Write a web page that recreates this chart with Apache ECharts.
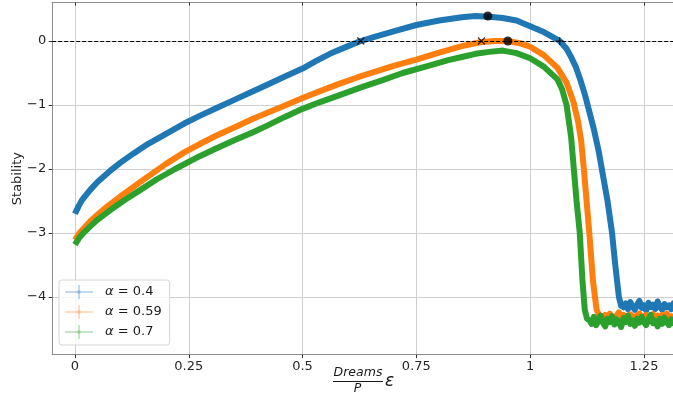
<!DOCTYPE html>
<html>
<head>
<meta charset="utf-8">
<script src="https://cdn.jsdelivr.net/npm/echarts@6/dist/echarts.min.js"></script>
<style>
  html, body { margin: 0; padding: 0; background: #ffffff; }
  #chart { width: 673px; height: 405px; }
</style>
</head>
<body>
<div id="chart"></div>
<script>
// Stability vs. (Dreams / P)·ε for three values of alpha.
const xTicks = [0, 0.25, 0.5, 0.75, 1, 1.25];
const yTicks = [-4, -3, -2, -1, 0];

const seriesNames = ['α = 0.4', 'α = 0.59', 'α = 0.7'];
const seriesColors = ['#1f77b4', '#ff7f0e', '#2ca02c'];

// alpha = 0.4
const stabilityA04 = [
  [0.000, -2.70], [0.008, -2.58], [0.015, -2.49], [0.025, -2.40], [0.033, -2.33],
  [0.050, -2.20], [0.077, -2.03], [0.100, -1.90], [0.128, -1.76], [0.160, -1.61],
  [0.200, -1.45], [0.240, -1.29], [0.274, -1.17], [0.310, -1.05], [0.350, -0.92],
  [0.390, -0.79], [0.420, -0.69], [0.460, -0.56], [0.500, -0.43], [0.530, -0.31],
  [0.560, -0.20], [0.600, -0.08], [0.628, 0.00], [0.660, 0.07], [0.700, 0.15],
  [0.750, 0.25], [0.800, 0.32], [0.850, 0.37], [0.880, 0.39], [0.910, 0.38],
  [0.940, 0.36], [0.970, 0.32], [1.000, 0.23], [1.030, 0.14], [1.050, 0.06],
  [1.065, 0.00], [1.080, -0.12], [1.090, -0.25], [1.100, -0.40], [1.110, -0.60],
  [1.120, -0.83], [1.130, -1.10], [1.140, -1.38], [1.150, -1.70], [1.160, -2.10],
  [1.170, -2.50], [1.180, -3.00], [1.187, -3.50], [1.195, -4.00], [1.200, -4.14],
  [1.205, -4.16], [1.210, -4.10], [1.215, -4.19], [1.220, -4.08], [1.225, -4.15],
  [1.230, -4.20], [1.235, -4.12], [1.240, -4.06], [1.245, -4.17], [1.250, -4.13],
  [1.255, -4.21], [1.260, -4.09], [1.265, -4.16], [1.270, -4.12], [1.275, -4.19],
  [1.280, -4.07], [1.285, -4.15], [1.290, -4.20], [1.295, -4.11], [1.300, -4.16],
  [1.305, -4.13], [1.310, -4.19], [1.315, -4.10], [1.320, -4.16]
];

// alpha = 0.59
const stabilityA059 = [
  [0.000, -3.11], [0.010, -3.00], [0.020, -2.92], [0.033, -2.82], [0.050, -2.71],
  [0.070, -2.59], [0.105, -2.40], [0.150, -2.17], [0.200, -1.92], [0.240, -1.74],
  [0.274, -1.61], [0.310, -1.48], [0.350, -1.35], [0.390, -1.22], [0.420, -1.13],
  [0.460, -1.01], [0.500, -0.89], [0.540, -0.78], [0.580, -0.67], [0.620, -0.57],
  [0.660, -0.48], [0.700, -0.39], [0.750, -0.29], [0.800, -0.18], [0.850, -0.08],
  [0.890, -0.02], [0.920, 0.00], [0.950, 0.00], [0.980, -0.04], [1.000, -0.09],
  [1.030, -0.22], [1.060, -0.42], [1.080, -0.65], [1.095, -0.95], [1.105, -1.25],
  [1.112, -1.55], [1.118, -2.00], [1.124, -2.50], [1.130, -3.00], [1.138, -3.75],
  [1.146, -4.20], [1.152, -4.29],
  [1.155, -4.30], [1.160, -4.33], [1.165, -4.28], [1.170, -4.32], [1.175, -4.26],
  [1.180, -4.31], [1.185, -4.34], [1.190, -4.29], [1.195, -4.24], [1.200, -4.32],
  [1.205, -4.28], [1.210, -4.31], [1.215, -4.35], [1.220, -4.27], [1.225, -4.30],
  [1.230, -4.33], [1.235, -4.29], [1.240, -4.26], [1.245, -4.32], [1.250, -4.30],
  [1.255, -4.28], [1.260, -4.34], [1.265, -4.31], [1.270, -4.27], [1.275, -4.32],
  [1.280, -4.29], [1.285, -4.33], [1.290, -4.28], [1.295, -4.31], [1.300, -4.26],
  [1.305, -4.32], [1.310, -4.30], [1.315, -4.34], [1.320, -4.29]
];

// alpha = 0.7
const stabilityA07 = [
  [0.000, -3.18], [0.010, -3.07], [0.020, -2.99], [0.033, -2.90], [0.050, -2.79],
  [0.080, -2.63], [0.110, -2.48], [0.143, -2.33], [0.180, -2.16], [0.220, -2.00],
  [0.274, -1.80], [0.310, -1.68], [0.350, -1.55], [0.390, -1.43], [0.420, -1.33],
  [0.460, -1.19], [0.500, -1.06], [0.540, -0.95], [0.580, -0.85], [0.630, -0.72],
  [0.676, -0.61], [0.720, -0.50], [0.780, -0.38], [0.820, -0.30], [0.850, -0.25],
  [0.880, -0.20], [0.910, -0.17], [0.940, -0.15], [0.970, -0.19], [1.000, -0.27],
  [1.030, -0.40], [1.060, -0.60], [1.070, -0.75], [1.080, -1.00], [1.090, -1.50],
  [1.096, -2.00], [1.102, -2.50], [1.109, -3.00], [1.115, -3.75], [1.120, -4.20],
  [1.125, -4.34],
  [1.130, -4.36], [1.135, -4.42], [1.140, -4.31], [1.145, -4.44], [1.150, -4.37],
  [1.155, -4.29], [1.160, -4.40], [1.165, -4.46], [1.170, -4.34], [1.175, -4.39],
  [1.180, -4.30], [1.185, -4.43], [1.190, -4.35], [1.195, -4.40], [1.200, -4.47],
  [1.205, -4.33], [1.210, -4.39], [1.215, -4.29], [1.220, -4.42], [1.225, -4.37],
  [1.230, -4.45], [1.235, -4.34], [1.240, -4.40], [1.245, -4.31], [1.250, -4.39],
  [1.255, -4.44], [1.260, -4.35], [1.265, -4.28], [1.270, -4.41], [1.275, -4.37],
  [1.280, -4.46], [1.285, -4.34], [1.290, -4.42], [1.295, -4.32], [1.300, -4.39],
  [1.305, -4.44], [1.310, -4.35], [1.315, -4.41], [1.320, -4.34]
];

// Zero crossings on the way up, maxima, and the downward crossing
const upCrossings = [[0.628, 0.0], [0.893, 0.0]];
const maxima = [[0.907, 0.39], [0.951, 0.0]];
const downCrossings = [[1.065, 0.0]];

const FONT = 'DejaVu Sans';
const minus = v => (v < 0 ? '\u2212' + Math.abs(v) : String(v));

const curves = [stabilityA04, stabilityA059, stabilityA07].map((data, i) => ({
  name: seriesNames[i],
  type: 'line',
  data: data,
  showSymbol: false,
  symbol: 'none',
  color: seriesColors[i],
  lineStyle: { width: 6, color: seriesColors[i], join: 'round' },
  z: 3 + i,
  silent: true,
  animation: false
}));

const chart = echarts.init(document.getElementById('chart'), null, { renderer: 'canvas' });

chart.setOption({
  animation: false,
  backgroundColor: '#ffffff',
  grid: { left: 52.2, top: 2.6, width: 623.6, height: 352, containLabel: false, outerBoundsMode: 'none' },
  xAxis: [{
    type: 'value',
    min: -0.05, max: 1.32,
    axisLine: { show: true, onZero: false, lineStyle: { color: '#8c8c8c', width: 1 } },
    axisTick: { show: true, customValues: xTicks, length: 3.5, inside: false, lineStyle: { color: '#333', width: 1 } },
    axisLabel: {
      customValues: xTicks, margin: 6, color: '#262626', fontFamily: FONT, fontSize: 13,
      formatter: v => String(v)
    },
    splitLine: { show: true, lineStyle: { color: '#cfcfcf', width: 1 } }
  }, {
    type: 'value',
    position: 'top',
    min: -0.05, max: 1.32,
    axisLine: { show: true, onZero: false, lineStyle: { color: '#8c8c8c', width: 1 } },
    axisTick: { show: true, customValues: xTicks, length: 3, inside: true, lineStyle: { color: '#333', width: 1 } },
    axisLabel: { show: false },
    splitLine: { show: false }
  }],
  yAxis: {
    type: 'value',
    min: -4.9, max: 0.6,
    name: 'Stability',
    nameLocation: 'middle',
    nameGap: 28,
    nameRotate: 90,
    nameMoveOverlap: false,
    nameTextStyle: { fontFamily: FONT, fontSize: 13, color: '#262626' },
    axisLine: { show: true, onZero: false, lineStyle: { color: '#8c8c8c', width: 1 } },
    axisTick: { show: true, customValues: yTicks, length: 3.5, lineStyle: { color: '#333', width: 1 } },
    axisLabel: {
      customValues: yTicks, margin: 6, color: '#262626', fontFamily: FONT, fontSize: 13,
      formatter: minus
    },
    splitLine: { show: true, lineStyle: { color: '#cfcfcf', width: 1 } }
  },
  legend: {
    data: seriesNames,
    orient: 'vertical',
    left: 59, top: 280,
    padding: [5, 8, 6, 6],
    itemGap: 6,
    itemWidth: 28,
    itemHeight: 14,
    icon: 'path://M0,6.5 L28,6.5 L28,7.5 L0,7.5 Z M13.5,0 L14.5,0 L14.5,14 L13.5,14 Z M12.6,5.6 L15.4,5.6 L15.4,8.4 L12.6,8.4 Z',
    itemStyle: { opacity: 0.55 },
    backgroundColor: 'rgba(255,255,255,0.8)',
    borderColor: '#d6d6d6',
    borderWidth: 1,
    borderRadius: 3,
    selectedMode: false,
    formatter: name => name.replace('α', '{a|α}'),
    textStyle: {
      fontFamily: FONT, fontSize: 13, color: '#1a1a1a',
      rich: { a: { fontFamily: FONT, fontSize: 13, fontStyle: 'italic', color: '#1a1a1a', padding: [0, 0, 0, 7] } }
    }
  },
  graphic: [
    { type: 'text', position: [358, 373], style: { text: 'Dreams', fontFamily: FONT, fontStyle: 'italic', fontSize: 12.5, fill: '#1a1a1a', align: 'center', verticalAlign: 'middle' } },
    { type: 'line', shape: { x1: 333, y1: 381.5, x2: 383, y2: 381.5 }, style: { stroke: '#1a1a1a', lineWidth: 1 } },
    { type: 'text', position: [357.5, 388.5], style: { text: 'P', fontFamily: FONT, fontStyle: 'italic', fontSize: 12.5, fill: '#1a1a1a', align: 'center', verticalAlign: 'middle' } },
    { type: 'text', position: [385, 382], style: { text: 'ε', fontFamily: FONT, fontStyle: 'italic', fontSize: 17, fill: '#1a1a1a', align: 'left', verticalAlign: 'middle' } }
  ],
  series: curves.concat([
    {
      name: 'up-crossings',
      type: 'scatter',
      data: upCrossings,
      symbol: 'path://M0,0 L10,10 M10,0 L0,10',
      symbolSize: 7,
      itemStyle: { color: 'rgba(0,0,0,0)', borderColor: '#000', borderWidth: 1.2 },
      z: 11,
      silent: true,
      markLine: {
        silent: true,
        symbol: ['none', 'none'],
        label: { show: false },
        lineStyle: { type: [4, 2], color: '#000', width: 1 },
        data: [{ yAxis: 0 }],
        z: 10
      }
    },
    {
      name: 'maxima',
      type: 'scatter',
      data: maxima,
      symbol: 'circle',
      symbolSize: 9,
      itemStyle: { color: '#000' },
      z: 12,
      silent: true
    },
    {
      name: 'down-crossings',
      type: 'scatter',
      data: downCrossings,
      symbol: 'path://M5,0 L5,10 M0,5 L10,5',
      symbolSize: 8,
      itemStyle: { color: 'rgba(0,0,0,0)', borderColor: '#000', borderWidth: 1.2 },
      z: 11,
      silent: true
    }
  ])
});
</script>
</body>
</html>
